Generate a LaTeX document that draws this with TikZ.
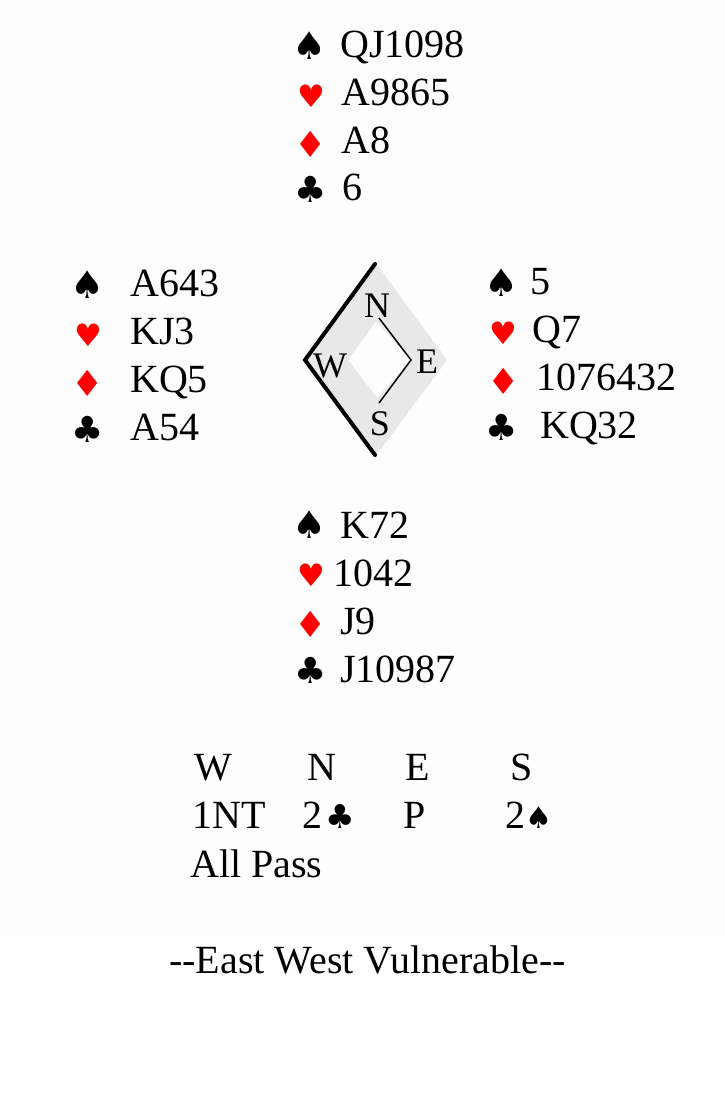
\documentclass[tikz,border=0pt]{standalone}
\usepackage{fontspec}
\setmainfont{Liberation Serif}
\newfontfamily\suitfam{DejaVu Sans}
\definecolor{compassgray}{RGB}{232,232,232}
\definecolor{topbg}{RGB}{253,253,253}
\tikzset{
  card/.style={anchor=base west, inner sep=0pt, font=\fontsize{40}{42}\selectfont},
  bid/.style={anchor=base west, inner sep=0pt, font=\fontsize{40}{42}\selectfont},
  hdr/.style={anchor=base, inner sep=0pt, font=\fontsize{40}{42}\selectfont},
  suit/.style={anchor=center, inner sep=0pt},
  spd/.style={suit, font=\suitfam\fontsize{38}{40}\selectfont},
  hrt/.style={suit, text=red, font=\suitfam\fontsize{31}{33}\selectfont},
  dmd/.style={suit, text=red, font=\suitfam\fontsize{36}{38}\selectfont},
  clb/.style={suit, font=\suitfam\fontsize{36}{38}\selectfont},
  cmp/.style={anchor=base, inner sep=0pt, font=\fontsize{36}{37}\selectfont},
}
\begin{document}
\begin{tikzpicture}[x=1pt,y=-1pt]
\useasboundingbox (0,0) rectangle (725,1098);
\fill[white] (0,0) rectangle (725,1098);
\fill[topbg] (0,0) rectangle (725,935);

% North
\node[spd] (ns) at (310,46)  {♠};
\node[card] (nst) at (340,57)  {QJ1098};
\node[hrt] (nh) at (311,96)  {♥};
\node[card] (nht) at (341,105) {A9865};
\node[dmd] (nd) at (311,144) {♦};
\node[card] (ndt) at (341,153) {A8};
\node[clb] (nc) at (311,189) {♣};
\node[card] (nct) at (342,200) {6};

% West
\node[spd] (ws) at (88,285) {♠};
\node[card] (wst) at (130,296) {A643};
\node[hrt] (wh) at (88,335) {♥};
\node[card] (wht) at (130,344) {KJ3};
\node[dmd] (wd) at (88,383) {♦};
\node[card] (wdt) at (130,392) {KQ5};
\node[clb] (wc) at (88,429) {♣};
\node[card] (wct) at (130,440) {A54};

% East
\node[spd] (es) at (502,283) {♠};
\node[card] (est) at (530,294) {5};
\node[hrt] (eh) at (503,333) {♥};
\node[card] (eht) at (532,342) {Q7};
\node[dmd] (ed) at (504,381) {♦};
\node[card] (edt) at (536,390) {1076432};
\node[clb] (ec) at (502,427) {♣};
\node[card] (ect) at (540,438) {KQ32};

% South
\node[spd] (ss) at (310,525) {♠};
\node[card] (sst) at (340,538) {K72};
\node[hrt] (sh) at (311,575) {♥};
\node[card] (sht) at (333,586) {1042};
\node[dmd] (sd) at (311,624) {♦};
\node[card] (sdt) at (340,634) {J9};
\node[clb] (sc) at (311,670) {♣};
\node[card] (sct) at (340,682) {J10987};

% Compass
\coordinate (ot) at (375,262);
\coordinate (or) at (447,360);
\coordinate (ob) at (375,457);
\coordinate (ol) at (305,360);
\coordinate (it) at (376,321);
\coordinate (ir) at (411,360);
\coordinate (ib) at (377,398);
\coordinate (il) at (348,360);
\fill[compassgray, even odd rule] (ot) -- (or) -- (ob) -- (ol) -- cycle
      (it) -- (ir) -- (ib) -- (il) -- cycle;
\draw[line width=4pt, line cap=round] (375,264) -- (ol) -- (375,455);
\coordinate (tn) at (379,318);
\coordinate (ts) at (379,403);
\draw[line width=1.5pt] (tn) -- (ir) -- (ts);
\node[cmp] (cn) at (377,317) {N};
\node[cmp] (cw) at (330,377) {W};
\node[cmp] (ce) at (427,373) {E};
\node[cmp] (cs) at (380,435) {S};

% Bidding
\node[hdr] (bw) at (213,780) {W};
\node[hdr] (bn) at (322,780) {N};
\node[hdr] (be) at (418,780) {E};
\node[hdr] (bs) at (522,780) {S};
\node[bid] (b1) at (192,828) {1NT};
\node[bid] (b2) at (302,828) {2\hspace{3pt}{\suitfam\fontsize{33}{34}\selectfont ♣}};
\node[bid] (b3) at (403,828) {P};
\node[bid] (b4) at (505,828) {2{\suitfam\fontsize{30}{32}\selectfont ♠}};
\node[bid] (b5) at (190,877) {All Pass};

\node[hdr] (vul) at (367.5,973) {-{}-East West Vulnerable-{}-};
\end{tikzpicture}
\end{document}
